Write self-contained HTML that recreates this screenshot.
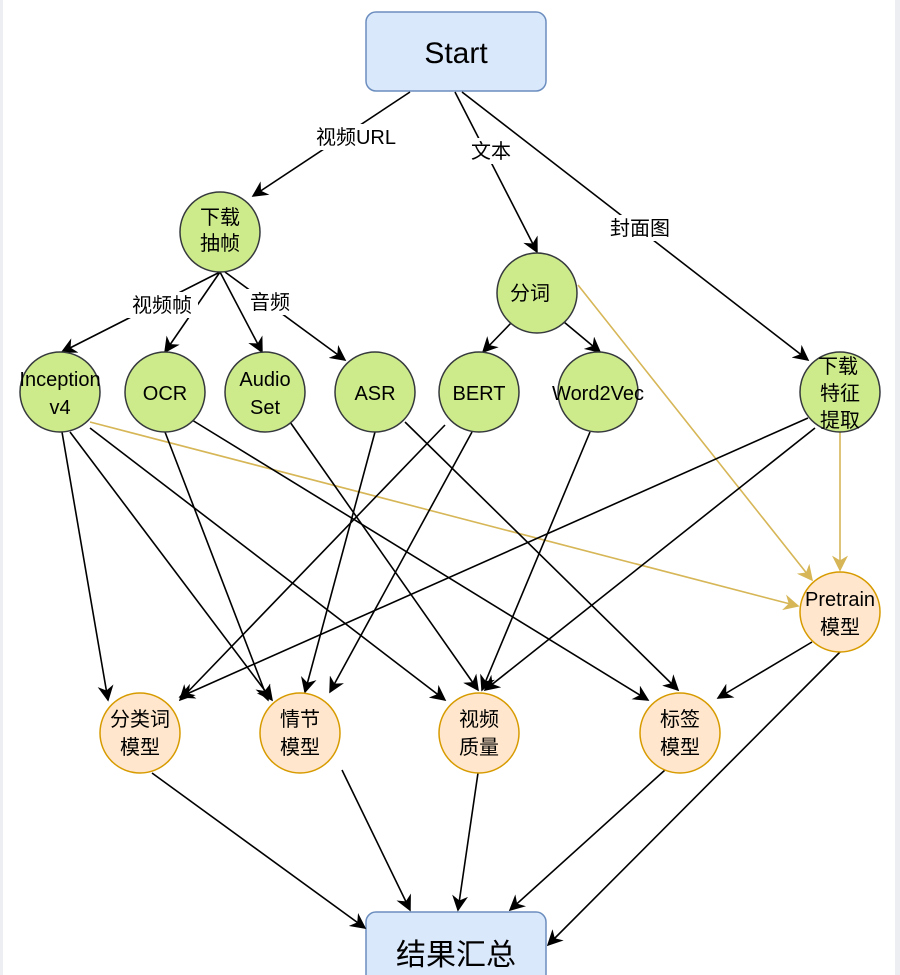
<!DOCTYPE html>
<html><head><meta charset="utf-8"><style>
body{margin:0;background:#fff;}
svg{display:block;font-family:"Liberation Sans","Noto Sans CJK SC",sans-serif;}
</style></head><body>
<svg width="900" height="975" viewBox="0 0 900 975" xmlns="http://www.w3.org/2000/svg">
<defs>
<marker id="a" viewBox="0 0 10 10" refX="9" refY="5" markerWidth="16" markerHeight="16" markerUnits="userSpaceOnUse" orient="auto"><path d="M0,0 L10,5 L0,10 L3,5 z" fill="#000"/></marker>
<marker id="g" viewBox="0 0 10 10" refX="9" refY="5" markerWidth="16" markerHeight="16" markerUnits="userSpaceOnUse" orient="auto"><path d="M0,0 L10,5 L0,10 L3,5 z" fill="#d6b656"/></marker>
</defs>
<style>
.e{stroke:#000;stroke-width:1.6;fill:none;marker-end:url(#a);}
.y{stroke:#d6b656;stroke-width:1.6;fill:none;marker-end:url(#g);}
.gn{fill:#cdeb8b;stroke:#36393d;stroke-width:1.5;}
.on{fill:#ffe6cc;stroke:#d79b00;stroke-width:1.5;}
text{font-size:20px;text-anchor:middle;fill:#000;}
</style>
<rect x="0" y="0" width="3" height="975" fill="#eceef2"/>
<rect x="895" y="0" width="5" height="975" fill="#eceef2"/>
<rect x="366" y="12" width="180" height="79" rx="10" fill="#dae8fc" stroke="#6c8ebf" stroke-width="1.5"/>
<text x="456" y="63" style="font-size:30px">Start</text>
<rect x="366" y="912" width="180" height="90" rx="10" fill="#dae8fc" stroke="#6c8ebf" stroke-width="1.5"/>
<text x="456" y="965" style="font-size:30px">结果汇总</text>

<path class="e" d="M410,92 L253,196"/>
<path class="e" d="M455,92 L537,252"/>
<path class="e" d="M462,92 L808,360"/>
<path class="e" d="M220,272 L62,352"/>
<path class="e" d="M220,272 L165,352"/>
<path class="e" d="M220,272 L262,352"/>
<path class="e" d="M225,272 L345,360"/>
<path class="e" d="M512,322 L483,352"/>
<path class="e" d="M564,322 L600,352"/>
<path class="y" d="M578,285 L812,580"/>
<path class="y" d="M90,422 L798,606"/>
<path class="y" d="M840,432 L840,570"/>
<path class="e" d="M62,432 L108,700"/>
<path class="e" d="M70,432 L272,700"/>
<path class="e" d="M90,428 L445,700"/>
<path class="e" d="M165,432 L268,700"/>
<path class="e" d="M192,420 L648,700"/>
<path class="e" d="M290,422 L478,690"/>
<path class="e" d="M375,432 L305,692"/>
<path class="e" d="M405,422 L678,690"/>
<path class="e" d="M445,425 L180,700"/>
<path class="e" d="M472,432 L330,692"/>
<path class="e" d="M590,432 L482,690"/>
<path class="e" d="M808,418 L180,697"/>
<path class="e" d="M815,428 L485,690"/>
<path class="e" d="M812,642 L718,698"/>
<path class="e" d="M840,652 L548,945"/>
<path class="e" d="M152,773 L365,928"/>
<path class="e" d="M342,770 L410,910"/>
<path class="e" d="M478,773 L458,910"/>
<path class="e" d="M665,770 L510,910"/>

<rect x="306" y="124" width="100" height="26" fill="#fff"/><text x="356" y="144">视频URL</text>
<rect x="466" y="138" width="50" height="26" fill="#fff"/><text x="491" y="158">文本</text>
<rect x="602" y="215" width="76" height="26" fill="#fff"/><text x="640" y="235">封面图</text>
<rect x="126" y="292" width="72" height="26" fill="#fff"/><text x="162" y="312">视频帧</text>
<rect x="246" y="289" width="50" height="26" fill="#fff"/><text x="270" y="309">音频</text>

<circle class="gn" cx="220" cy="232" r="40"/><text x="220" y="224">下载</text><text x="220" y="250">抽帧</text>
<circle class="gn" cx="537" cy="293" r="40"/><text x="530" y="300">分词</text>
<circle class="gn" cx="60" cy="392" r="40"/><text x="60" y="386">Inception</text><text x="60" y="414">v4</text>
<circle class="gn" cx="165" cy="392" r="40"/><text x="165" y="400">OCR</text>
<circle class="gn" cx="265" cy="392" r="40"/><text x="265" y="386">Audio</text><text x="265" y="414">Set</text>
<circle class="gn" cx="375" cy="392" r="40"/><text x="375" y="400">ASR</text>
<circle class="gn" cx="479" cy="392" r="40"/><text x="479" y="400">BERT</text>
<circle class="gn" cx="598" cy="392" r="40"/><text x="598" y="400">Word2Vec</text>
<circle class="gn" cx="840" cy="392" r="40"/><text x="838" y="373">下载</text><text x="840" y="400">特征</text><text x="840" y="427">提取</text>
<circle class="on" cx="840" cy="612" r="40"/><text x="840" y="606">Pretrain</text><text x="840" y="634">模型</text>
<circle class="on" cx="140" cy="733" r="40"/><text x="140" y="726">分类词</text><text x="140" y="754">模型</text>
<circle class="on" cx="300" cy="733" r="40"/><text x="300" y="726">情节</text><text x="300" y="754">模型</text>
<circle class="on" cx="479" cy="733" r="40"/><text x="479" y="726">视频</text><text x="479" y="754">质量</text>
<circle class="on" cx="680" cy="733" r="40"/><text x="680" y="726">标签</text><text x="680" y="754">模型</text>
</svg>
</body></html>
